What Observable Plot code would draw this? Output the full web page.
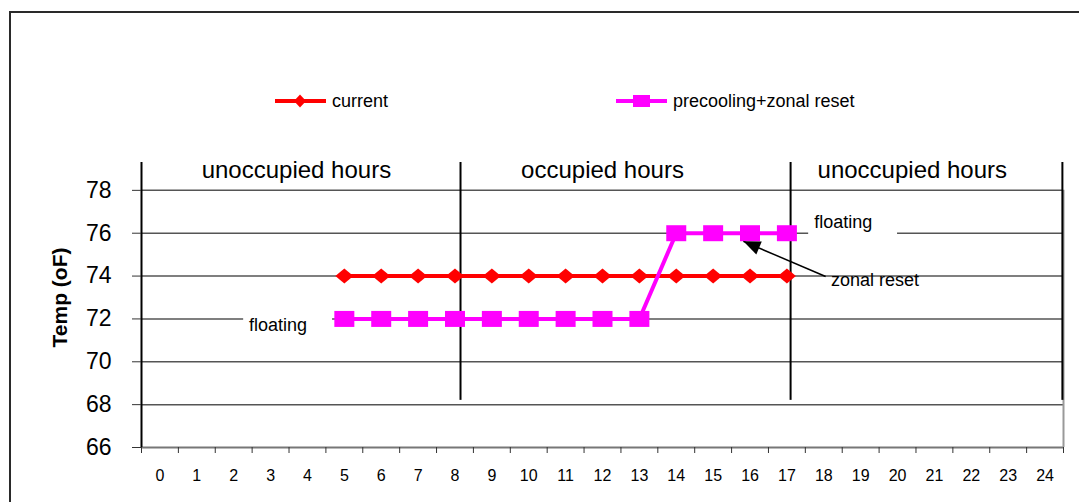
<!DOCTYPE html>
<html><head><meta charset="utf-8">
<script src="https://cdn.jsdelivr.net/npm/d3@7"></script>
<script src="https://cdn.jsdelivr.net/npm/@observablehq/plot@0.6"></script>
<style>
body{margin:0;background:#fff;font-family:"Liberation Sans",Arial,sans-serif;}
#wrap{position:relative;width:1079px;height:502px;overflow:hidden;background:#fff;}
#frame{position:absolute;left:9px;top:11px;width:1200px;height:600px;border:2px solid #2a2a2a;box-sizing:border-box;}
#chart{position:absolute;left:0;top:120px;}
.leg{position:absolute;top:90px;height:22px;display:flex;align-items:center;font-size:18px;color:#000;white-space:nowrap;}
.leg svg{margin-right:6px;}
</style></head><body>
<div id="wrap"><div id="frame"></div><div id="legend"></div><div id="chart"></div></div>
<script>
// ---- data ----
const hours = [0,1,2,3,4,5,6,7,8,9,10,11,12,13,14,15,16,17,18,19,20,21,22,23,24];
const seriesNames = ["current", "precooling+zonal reset"];
const currentHours = [5,6,7,8,9,10,11,12,13,14,15,16,17];
const currentTemps = [74,74,74,74,74,74,74,74,74,74,74,74,74];
const precoolHours = [5,6,7,8,9,10,11,12,13,14,15,16,17];
const precoolTemps = [72,72,72,72,72,72,72,72,72,76,76,76,76];
const yTicks = [66,68,70,72,74,76,78];
const yTitle = "Temp (oF)";
const phaseLabels = ["unoccupied hours", "occupied hours", "unoccupied hours"];
const phaseLabelHour = [3.7, 12, 20.4];
const phaseDividers = [8.15, 17.1, 24.47];
const notes = [
  {label: "floating", x: 3.2, y: 71.69, gapX1: 2.27, gapX2: 4.68, gapY: 72},
  {label: "floating", x: 18.53, y: 76.5, gapX1: 17.59, gapX2: 20.0, gapY: 76}
];
const arrowNote = {label: "zonal reset", x: 19.39, y: 73.8, x1: 18.05, y1: 73.98, x2: 15.82, y2: 75.62};

// ---- styles ----
const RED = "#ff0000", MAG = "#ff00ff";
const FONT = '"Liberation Sans", Arial, sans-serif';
const diamondSym = {draw(ctx){ctx.moveTo(0,-7.5);ctx.lineTo(9,0);ctx.lineTo(0,7.5);ctx.lineTo(-9,0);ctx.closePath();}};
const squareSym = {draw(ctx){ctx.rect(-10,-8,20,16);}};
const triSym = {draw(ctx){ctx.moveTo(0,0);ctx.lineTo(-7,17);ctx.lineTo(7,17);ctx.closePath();}};

const current = currentHours.map((h,i)=>({hour:h, temp:currentTemps[i]}));
const precool = precoolHours.map((h,i)=>({hour:h, temp:precoolTemps[i]}));
const boundaries = hours.map(h=>h-0.5).concat([hours[hours.length-1]+0.5]);
const xMin = boundaries[0], xMax = boundaries[boundaries.length-1];

// ---- legend ----
const legendDefs = [
  {name: seriesNames[0], color: RED, left: 275, marker: '<path d="M25,3.5 L31,10 L25,16.5 L19,10 Z" fill="'+RED+'"/>'},
  {name: seriesNames[1], color: MAG, left: 616, marker: '<rect x="17" y="4" width="17" height="12" fill="'+MAG+'"/>'}
];
const legend = document.getElementById("legend");
legendDefs.forEach(d=>{
  const el = document.createElement("div");
  el.className = "leg";
  el.style.left = d.left + "px";
  el.innerHTML = '<svg width="51" height="20"><line x1="0" x2="51" y1="10" y2="10" stroke="'+d.color+'" stroke-width="4"/>'+d.marker+'</svg><span>'+d.name+'</span>';
  legend.appendChild(el);
});

// ---- chart ----
const chart = Plot.plot({
  width: 1079, height: 382,
  marginTop: 27, marginBottom: 55, marginLeft: 141, marginRight: 16,
  x: {domain: [xMin, xMax]},
  y: {domain: [66, 80]},
  style: {fontFamily: FONT, background: "transparent", color: "#000", overflow: "visible"},
  marks: [
    Plot.ruleY(yTicks.slice(1), {x1: xMin, x2: xMax, stroke: "#555", strokeWidth: 1.5}),
    Plot.ruleY([yTicks[0]], {x1: xMin, x2: xMax, stroke: "#777", strokeWidth: 2}),
    Plot.ruleX([xMax], {y1: yTicks[0], y2: yTicks[yTicks.length-1], stroke: "#999", strokeWidth: 2}),
    Plot.rect(notes, {x1: "gapX1", x2: "gapX2", y1: d=>d.gapY-0.2, y2: d=>d.gapY+0.2, fill: "#fff"}),
    Plot.ruleX([xMin], {y1: 66, y2: 79.3, stroke: "#000", strokeWidth: 2}),
    Plot.ruleX(phaseDividers, {y1: 68.2, y2: 79.3, stroke: "#000", strokeWidth: 2}),
    Plot.axisY({ticks: yTicks, tickSize: 9, tickPadding: 21, fontSize: 23, label: null, stroke: "#333"}),
    Plot.axisX({ticks: hours, tickSize: 0, tickPadding: 22, fontSize: 16, label: null}),
    Plot.axisX({ticks: boundaries, tickSize: 6, tickFormat: () => "", label: null, stroke: "#333"}),
    Plot.text([yTitle], {frameAnchor: "left", dx: -81, rotate: -90, fontSize: 21, fontWeight: "bold", textAnchor: "middle", lineAnchor: "middle"}),
    Plot.text(phaseLabels, {x: (d,i)=>phaseLabelHour[i], y: 78.93, text: d=>d, fontSize: 24, lineAnchor: "middle"}),
    Plot.line(current, {x: "hour", y: "temp", stroke: RED, strokeWidth: 4}),
    Plot.dot(current, {x: "hour", y: "temp", symbol: diamondSym, fill: RED, stroke: null, r: 5}),
    Plot.line(precool, {x: "hour", y: "temp", stroke: MAG, strokeWidth: 4}),
    Plot.dot(precool, {x: "hour", y: "temp", symbol: squareSym, fill: MAG, stroke: null, r: 5}),
    Plot.text(notes, {x: "x", y: "y", text: "label", fontSize: 18, lineAnchor: "middle"}),
    Plot.text([arrowNote], {x: "x", y: "y", text: "label", fontSize: 18, lineAnchor: "middle"}),
    Plot.link([arrowNote], {x1: "x1", y1: "y1", x2: "x2", y2: "y2", stroke: "#000", strokeWidth: 1.5}),
    Plot.dot([arrowNote], {x: "x2", y: "y2", symbol: triSym, fill: "#000", stroke: null, rotate: -67, r: 5})
  ]
});
document.getElementById("chart").appendChild(chart);
</script>
</body></html>
